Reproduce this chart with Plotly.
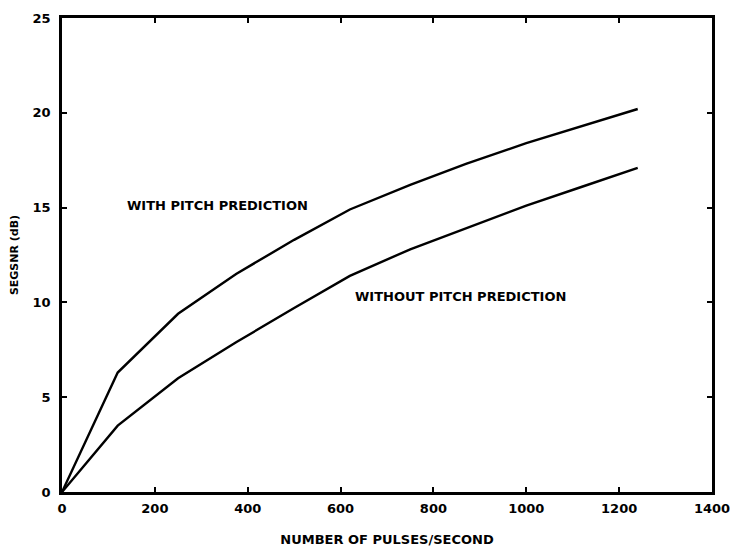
import plotly.graph_objects as go

pulses = [0, 120, 250, 375, 500, 620, 750, 870, 1000, 1120, 1240]
with_pitch = [0, 6.3, 9.4, 11.5, 13.3, 14.9, 16.2, 17.3, 18.4, 19.3, 20.2]
without_pitch = [0, 3.5, 6.0, 7.9, 9.7, 11.4, 12.8, 13.9, 15.1, 16.1, 17.1]

x_ticks = [0, 200, 400, 600, 800, 1000, 1200, 1400]
y_ticks = [0, 5, 10, 15, 20, 25]

FONT = "DejaVu Sans"

fig = go.Figure()
fig.add_trace(go.Scatter(x=pulses, y=with_pitch, mode="lines",
                         line=dict(color="black", width=2.4), showlegend=False))
fig.add_trace(go.Scatter(x=pulses, y=without_pitch, mode="lines",
                         line=dict(color="black", width=2.4), showlegend=False))

fig.add_annotation(x=135, y=15.1, xanchor="left", yanchor="middle",
                   text="WITH PITCH PREDICTION", showarrow=False,
                   font=dict(family=FONT, size=13, color="black", weight="bold"))
fig.add_annotation(x=627, y=10.3, xanchor="left", yanchor="middle",
                   text="WITHOUT PITCH PREDICTION", showarrow=False,
                   font=dict(family=FONT, size=13, color="black", weight="bold"))

axis_common = dict(showgrid=False, zeroline=False, showline=True, linecolor="black",
                   linewidth=2.5, mirror="ticks", ticks="inside", ticklen=5,
                   tickwidth=2, tickcolor="black",
                   tickfont=dict(family=FONT, size=13, color="black", weight="bold"))

fig.update_xaxes(range=[0, 1400], tickvals=x_ticks, ticktext=[str(v) for v in x_ticks],
                 ticklabelstandoff=3,
                 title=dict(text="NUMBER OF PULSES/SECOND", standoff=20,
                            font=dict(family=FONT, size=13, color="black", weight="bold")),
                 **axis_common)
fig.update_yaxes(range=[0, 25], tickvals=y_ticks, ticktext=[str(v) for v in y_ticks],
                 ticklabelstandoff=6,
                 title=dict(text="SEGSNR (dB)", standoff=12,
                            font=dict(family=FONT, size=11, color="black", weight="bold")),
                 **axis_common)

fig.update_layout(width=738, height=554, margin=dict(l=54, r=34, t=10, b=70, autoexpand=False),
                  paper_bgcolor="white", plot_bgcolor="white")
fig.write_html("out.html")
